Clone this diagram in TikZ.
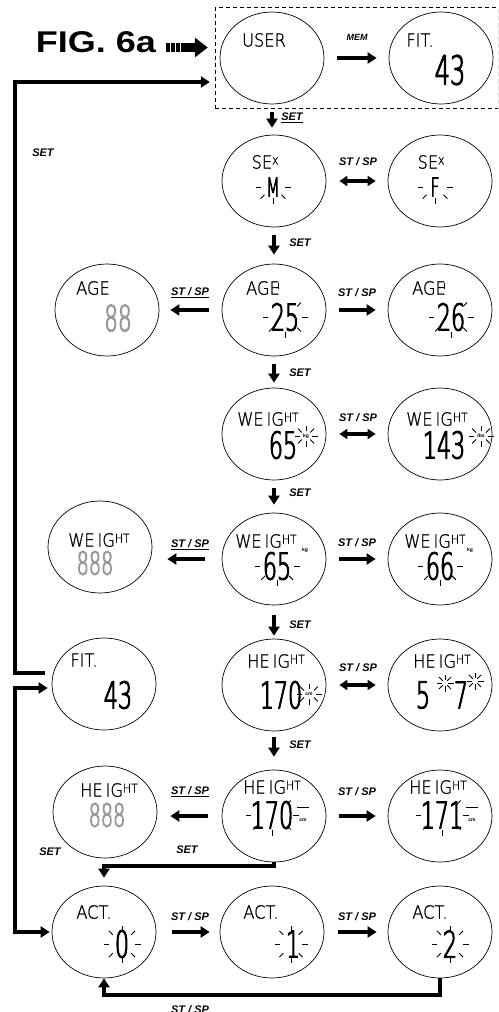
\documentclass[tikz,border=0pt]{standalone}
\usepackage{graphicx}
\usepackage{fontspec}
\setmainfont{Liberation Sans}
\newfontfamily\lcd{DejaVu Sans ExtraLight}[FakeBold=1.2,FakeStretch=0.9]
\newfontfamily\lcdd{DejaVu Sans ExtraLight}[FakeStretch=0.6,FakeBold=2.6]
\usetikzlibrary{arrows.meta,shapes.geometric,fit}
\newcommand\smallht{\raisebox{4pt}{\fontsize{12}{12}\selectfont HT}}
\newcommand\smallx{\raisebox{4pt}{\fontsize{10}{10}\selectfont X}}
\newcommand\blinkrays[5]{\foreach \a in {#5}{\draw[ray] ({#1+(#3)*cos(\a)},{#2+(#4)*sin(\a)}) -- ({#1+(#3+5.5)*cos(\a)},{#2+(#4+5.5)*sin(\a)});}}
\begin{document}
\begin{tikzpicture}[x=1pt,y=-1pt,
 disp/.style={draw, ellipse, line width=0.7pt, minimum width=104pt, minimum height=92pt, inner sep=0pt},
 word/.style={inner sep=0pt, font=\lcd\fontsize{18}{18}\selectfont},
 dig/.style={inner sep=0pt, font=\lcdd\fontsize{37}{37}\selectfont},
 gdig/.style={dig, text=black!40, font=\lcdd\fontsize{32}{32}\selectfont},
 sdig/.style={inner sep=0pt, font=\lcdd\fontsize{26}{26}\selectfont},
 lab/.style={inner sep=0pt, font=\bfseries\itshape\fontsize{11}{11}\selectfont},
 unitlab/.style={inner sep=0pt, font=\bfseries\fontsize{5}{5}\selectfont},
 ray/.style={line width=0.9pt},
 bigarr/.style={line width=4.5pt, line join=miter, -{Triangle[length=9pt,width=11pt]}},
 dblarr/.style={line width=4pt, {Triangle[length=8pt,width=10pt]}-{Triangle[length=8pt,width=10pt]}},
 loopline/.style={line width=4.5pt, line join=miter},
]
\useasboundingbox (0,0) rectangle (498,1012);
\clip (0,0) rectangle (498,1012);

% ---------- row 1
\node[disp] (u) at (272,58) {};
\node[word] (ut) at (264,40) {USER};
\node[disp] (f1) at (441,58) {};
\node[word] (f1t) at (420,40) {FIT.};
\node[dig, font=\lcdd\fontsize{40}{40}\selectfont] (f1d) at (450,70) {43};
\node[draw, dash pattern=on 4pt off 3pt, line width=0.7pt, fit=(u)(f1), inner xsep=4.5pt, inner ysep=4pt] (box) {};
\node[inner sep=0pt, font=\bfseries\fontsize{30}{30}\selectfont] (fig) at (96,42) {\scalebox{1.2}[1]{FIG. 6a}};
\coordinate (fa) at (166,47.5);
\coordinate (fb) at (183,47.5);
\draw[line width=9pt, dash pattern=on 3.6pt off 1.4pt] (fa) -- (fb);
\draw[line width=9pt, -{Triangle[length=13pt,width=19pt]}, shorten >=7pt] (fb) -- (box.west |- fb);
\draw[bigarr, shorten <=13pt, shorten >=12pt] (u.east) -- (f1.west);
\node[lab, font=\bfseries\itshape\fontsize{9}{9}\selectfont] (lmem) at (357,37) {MEM};

% ---------- row 2
\node[disp] (s1) at (274,181) {};
\node[word] (s1t) at (265,162) {SE\smallx};
\node[sdig] (s1d) at (273,187) {M};
\blinkrays{273}{187}{12}{11}{0,180,45,90,135}
\node[disp] (s2) at (440,181) {};
\node[word] (s2t) at (431,162) {SE\smallx};
\node[sdig] (s2d) at (435,187) {F};
\blinkrays{435}{187}{12}{11}{0,180,45,90,135}
\draw[dblarr, shorten <=13pt, shorten >=12pt] (s1.east) -- (s2.west);
\node[lab] (l2) at (358,162) {ST / SP};
\draw[bigarr, shorten <=8pt, shorten >=7pt] (u.south) -- (u.south |- s1.north);
\node[lab] (l1) at (292,118) {\underline{SET}};

% ---------- row 3
\node[disp] (a0) at (107,310) {};
\node[word] (a0t) at (93,288) {AGE};
\node[gdig, font=\lcdd\fontsize{36}{36}\selectfont] (a0d) at (118,318) {88};
\node[disp] (a1) at (274,310) {};
\node[word] (a1t) at (263,288) {AGE};
\node[dig] (a1d) at (285,317) {25};
\blinkrays{285}{317}{17}{15}{0,180,45,90,135,315}
\draw[ray] (278,283) -- (278,289);
\node[disp] (a2) at (440,310) {};
\node[word] (a2t) at (429,288) {AGE};
\node[dig] (a2d) at (451,317) {26};
\blinkrays{451}{317}{17}{15}{0,180,45,90,135,315}
\draw[ray] (444,283) -- (444,289);
\draw[bigarr, shorten <=13pt, shorten >=11pt] (a1.west) -- (a0.east);
\node[lab] (l3a) at (190,293) {\underline{ST / SP}};
\draw[bigarr, shorten <=13pt, shorten >=12pt] (a1.east) -- (a2.west);
\node[lab] (l3b) at (357,293) {ST / SP};
\draw[bigarr, shorten <=8pt, shorten >=9pt] (s1.south) -- (a1.north);
\node[lab] (l2s) at (300,243) {SET};

% ---------- row 4
\node[disp] (w1) at (274,434) {};
\node[word] (w1t) at (268,419) {WE\,IG\smallht};
\node[dig] (w1d) at (283,445) {65};
\node[unitlab] (w1u) at (306,436) {kg};
\blinkrays{306}{436}{6}{5}{0,45,90,135,180,225,270,315}
\node[disp] (w2) at (440,434) {};
\node[word] (w2t) at (437,419) {WE\,IG\smallht};
\node[dig] (w2d) at (444,445) {143};
\node[unitlab] (w2u) at (481,436) {lbs};
\blinkrays{481}{436}{7}{5}{0,45,90,135,180,225,270,315}
\draw[dblarr, shorten <=13pt, shorten >=12pt] (w1.east) -- (w2.west);
\node[lab] (l4) at (358,418) {ST / SP};
\draw[bigarr, shorten <=8pt, shorten >=5pt] (a1.south) -- (w1.north);
\node[lab] (l3s) at (300,373) {SET};

% ---------- row 5
\node[disp] (w0) at (100,547) {};
\node[word] (w0t) at (99,540) {WE\,IG\smallht};
\node[gdig] (w0d) at (95,563) {888};
\node[disp] (w3) at (274,559) {};
\node[word] (w3t) at (266,541) {WE\,IG\smallht};
\node[dig] (w3d) at (277,566) {65};
\node[unitlab] (w3u) at (305,550) {kg};
\blinkrays{277}{566}{17}{14}{0,180,45,90,135}
\node[disp] (w4) at (440,559) {};
\node[word] (w4t) at (435,541) {WE\,IG\smallht};
\node[dig] (w4d) at (440,566) {66};
\node[unitlab] (w4u) at (470,550) {kg};
\blinkrays{440}{566}{17}{14}{0,180,45,90,135}
\draw[bigarr, shorten <=17pt, shorten >=15pt] (w3.west) -- (w3.west -| w0.east);
\node[lab] (l5a) at (190,545) {\underline{ST / SP}};
\draw[bigarr, shorten <=13pt, shorten >=12pt] (w3.east) -- (w4.west);
\node[lab] (l5b) at (357,543) {ST / SP};
\draw[bigarr, shorten <=8pt, shorten >=8pt] (w1.south) -- (w3.north);
\node[lab] (l4s) at (300,493) {SET};

% ---------- row 6
\node[disp] (f2) at (104,684) {};
\node[word] (f2t) at (84,660) {FIT.};
\node[dig] (f2d) at (118,695) {43};
\node[disp] (h1) at (274,685) {};
\node[word] (h1t) at (276,661) {HE\,IG\smallht};
\node[dig] (h1d) at (281,695) {170};
\node[unitlab] (h1u) at (309,694) {cm};
\blinkrays{309}{694}{7}{5}{0,45,90,135,180,225,270,315}
\node[disp] (h2) at (440,685) {};
\node[word] (h2t) at (442,661) {HE\,IG\smallht};
\node[dig] (h2a) at (423,695) {5};
\node[dig] (h2b) at (461,695) {7};
\blinkrays{445}{683}{3}{3}{0,45,90,135,180,225,270,315}
\blinkrays{475}{681}{3}{3}{0,45,90,135,180,225,270,315}
\draw[dblarr, shorten <=13pt, shorten >=12pt] (h1.east) -- (h2.west);
\node[lab] (l6) at (358,668) {ST / SP};
\draw[bigarr, shorten <=10pt, shorten >=3pt] (w3.south) -- (h1.north);
\node[lab] (l5s) at (300,625) {SET};

% ---------- row 7
\node[disp] (h0) at (105,812) {};
\node[word] (h0t) at (109,790) {HE\,IG\smallht};
\node[gdig] (h0d) at (107,815) {888};
\node[disp] (h3) at (274,816) {};
\node[word] (h3t) at (272,787) {HE\,IG\smallht};
\node[dig] (h3d) at (272,815) {170};
\node[unitlab] (h3u) at (303,820) {cm};
\draw[ray] (297,807) -- (309,807);
\blinkrays{272}{815}{21}{15}{0,180,45,90,135,315}
\node[disp] (h4) at (440,816) {};
\node[word] (h4t) at (438,787) {HE\,IG\smallht};
\node[dig] (h4d) at (442,815) {171};
\node[unitlab] (h4u) at (472,820) {cm};
\draw[ray] (466,807) -- (478,807);
\blinkrays{442}{815}{21}{15}{0,180,45,90,135,315}
\draw[bigarr, shorten <=14pt, shorten >=13pt] (h3.west) -- (h3.west -| h0.east);
\node[lab] (l7a) at (190,792) {\underline{ST / SP}};
\draw[bigarr, shorten <=13pt, shorten >=12pt] (h3.east) -- (h4.west);
\node[lab] (l7b) at (357,792) {ST / SP};
\draw[bigarr, shorten <=6pt, shorten >=13pt] (h1.south) -- (h3.north);
\node[lab] (l6s) at (300,745) {SET};

% ---------- row 8
\node[disp] (c0) at (104,932) {};
\node[word] (c0t) at (94,912) {ACT.};
\node[dig] (c0d) at (122,944) {0};
\blinkrays{122}{944}{13}{13}{0,180,45,90,135,225,315,270}
\node[disp] (c1) at (272,932) {};
\node[word] (c1t) at (261,912) {ACT.};
\node[dig] (c1d) at (293,944) {1};
\blinkrays{291}{944}{11}{13}{0,180,45,90,135,225,315,270}
\node[disp] (c2) at (440,932) {};
\node[word] (c2t) at (430,912) {ACT.};
\node[dig] (c2d) at (450,944) {2};
\blinkrays{450}{944}{13}{13}{0,180,45,90,135,225,315,270}
\draw[bigarr, shorten <=16pt, shorten >=10pt] (c0.east) -- (c1.west);
\node[lab] (l8a) at (190,917) {ST / SP};
\draw[bigarr, shorten <=14pt, shorten >=11pt] (c1.east) -- (c2.west);
\node[lab] (l8b) at (357,917) {ST / SP};

% ---------- loops
\coordinate (e1) at (275,866);
\draw[bigarr, shorten >=8pt] (h3.south) -- (h3.south |- e1) -| (c0.north);
\coordinate (e2) at (0,995);
\draw[bigarr] (c2.south) -- (c2.south |- e2) -| (c0.south);
\node[lab] (l8c) at (190,1010) {ST / SP};
\node[lab] (l7s1) at (50,852) {SET};
\node[lab] (l7s2) at (187,850) {SET};

\coordinate (la) at ([shift={(-7,-11)}]f2.west);
\coordinate (lx) at (15,82);
\draw[loopline, -{Triangle[length=9pt,width=11pt]}, shorten >=5pt] (la) -| (lx) -- (box.west |- lx);
\node[lab] (lset) at (43,153) {SET};
\coordinate (lb) at ([shift={(-4,4)}]f2.west);
\coordinate (ly) at (15,932);
\draw[loopline, {Triangle[length=9pt,width=11pt]}-{Triangle[length=9pt,width=11pt]}, shorten >=2pt] (lb) -| (ly) -- (c0.west |- ly);
\end{tikzpicture}
\end{document}
